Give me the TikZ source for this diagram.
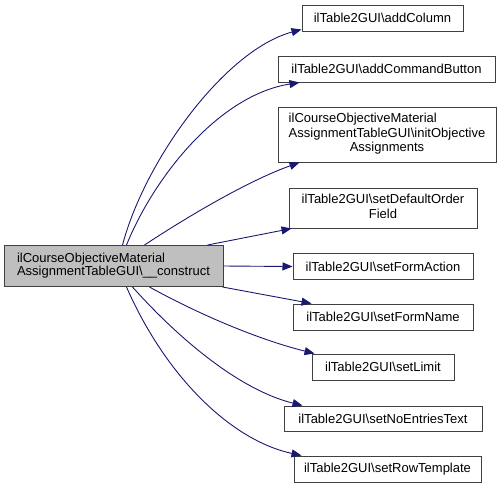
\documentclass[tikz,border=0pt]{standalone}
\usepackage{fontspec}
\setmainfont{Liberation Sans}
\usetikzlibrary{arrows.meta,positioning}
\definecolor{edgecol}{HTML}{191970}
\definecolor{srcfill}{HTML}{BFBFBF}
\definecolor{boxline}{HTML}{404040}
\tikzset{
  fbox/.style={draw=boxline,line width=1pt,fill=white,rectangle,inner sep=0pt,
    font=\fontsize{13}{14.5}\selectfont},
  srcbox/.style={fbox,fill=srcfill,font=\fontsize{13}{13}\selectfont},
  call/.style={draw=edgecol,line width=0.9pt,-{Triangle[length=10pt,width=8pt]}}
}
\begin{document}
\begin{tikzpicture}[x=1pt,y=-1pt]
\useasboundingbox (0,0) rectangle (500,488);
\node[srcbox,minimum width=219pt,minimum height=41pt] (src) at (113.5,266)
  {\begin{tabular}{@{}l@{}}ilCourseObjectiveMaterial\\AssignmentTableGUI\textbackslash\_\_construct\end{tabular}};
\node[fbox,minimum width=161pt,minimum height=26pt] (t1) at (382.5,18) {ilTable2GUI\textbackslash addColumn};
\node[fbox,minimum width=217pt,minimum height=26pt] (t2) at (386.5,69) {ilTable2GUI\textbackslash addCommandButton};
\node[fbox,minimum width=218pt,minimum height=55pt] (t3) at (387,134.5)
  {\begin{tabular}{@{}l@{}}ilCourseObjectiveMaterial\\AssignmentTableGUI\textbackslash initObjective\\\multicolumn{1}{@{}c@{}}{Assignments}\end{tabular}};
\node[fbox,minimum width=188pt,minimum height=40pt] (t4) at (383,208)
  {\begin{tabular}{@{}c@{}}ilTable2GUI\textbackslash setDefaultOrder\\Field\end{tabular}};
\node[fbox,minimum width=180pt,minimum height=26pt] (t5) at (383,266.5) {ilTable2GUI\textbackslash setFormAction};
\node[fbox,minimum width=180pt,minimum height=26pt] (t6) at (383,317) {ilTable2GUI\textbackslash setFormName};
\node[fbox,minimum width=142pt,minimum height=26pt] (t7) at (383,367) {ilTable2GUI\textbackslash setLimit};
\node[fbox,minimum width=198pt,minimum height=25pt] (t8) at (383,418.5) {ilTable2GUI\textbackslash setNoEntriesText};
\node[fbox,minimum width=187pt,minimum height=26pt] (t9) at (387.5,469) {ilTable2GUI\textbackslash setRowTemplate};

\draw[call] ([xshift=119pt]src.north west) .. controls (145,160) and (225,50) .. ([yshift=2pt]t1.south west);
\draw[call] ([xshift=123pt]src.north west) .. controls (155,175) and (220,95) .. ([xshift=22pt]t2.south west);
\draw[call] ([xshift=141pt]src.north west) .. controls (190,215) and (250,180) .. ([xshift=22pt]t3.south west);
\draw[call] ([xshift=-16pt]src.north east) -- ([xshift=3pt]t4.south west);
\draw[call] (src.east) -- (t5.west);
\draw[call] ([xshift=-1pt]src.south east) -- ([xshift=19pt]t6.north west);
\draw[call] ([xshift=146pt]src.south west) .. controls (200,315) and (260,340) .. ([xshift=3pt]t7.north west);
\draw[call] ([xshift=129pt]src.south west) .. controls (180,340) and (240,390) .. ([xshift=19pt]t8.north west);
\draw[call] ([xshift=123pt]src.south west) .. controls (165,375) and (230,440) .. ([xshift=8pt]t9.north west);
\end{tikzpicture}
\end{document}
